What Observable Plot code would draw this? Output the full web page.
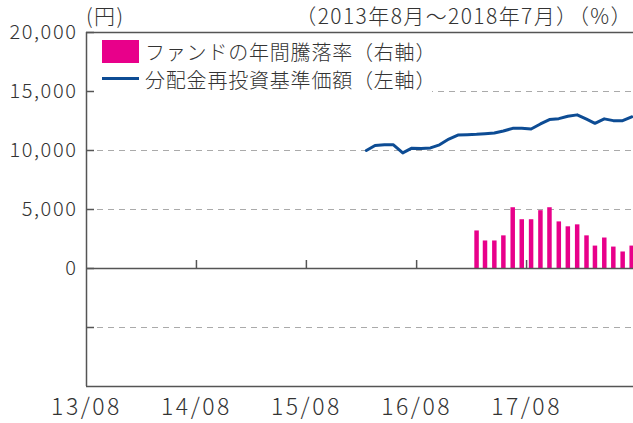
<!DOCTYPE html>
<html><head><meta charset="utf-8">
<script src="https://cdn.jsdelivr.net/npm/d3@7"></script>
<script src="https://cdn.jsdelivr.net/npm/@observablehq/plot@0.6"></script>
<style>
body{margin:0;background:#fff;}
#wrap{position:relative;width:633px;height:423px;font-family:"Noto Sans CJK JP",sans-serif;color:#333;}
#wrap svg{position:absolute;left:0;top:0;}
#wrap svg text{font-weight:300;}
.hdr{position:absolute;top:1px;font-size:21px;line-height:28px;white-space:nowrap;font-weight:300;letter-spacing:1.4px;}
#legend{position:absolute;left:96px;top:36px;width:336px;height:60px;background:#fff;font-size:20px;font-weight:300;letter-spacing:0.8px;}
#legend .sw1{position:absolute;left:6px;top:4px;width:37px;height:23px;background:#e8008a;}
#legend .sw2{position:absolute;left:6px;top:41px;width:37px;height:3px;background:#0d4c94;}
#legend .t{position:absolute;left:49px;line-height:26px;white-space:nowrap;}
</style></head>
<body>
<div id="wrap"></div>
<script>
// --- data ---
const navMonths = ["2016-02","2016-03","2016-04","2016-05","2016-06","2016-07","2016-08","2016-09","2016-10","2016-11","2016-12","2017-01","2017-02","2017-03","2017-04","2017-05","2017-06","2017-07","2017-08","2017-09","2017-10","2017-11","2017-12","2018-01","2018-02","2018-03","2018-04","2018-05","2018-06","2018-07"];
const navValues = [10000,10430,10480,10480,9800,10200,10170,10220,10480,10970,11310,11340,11370,11420,11480,11650,11880,11880,11820,12250,12620,12700,12900,13020,12650,12300,12680,12530,12530,12850];
const retMonths = ["2017-02","2017-03","2017-04","2017-05","2017-06","2017-07","2017-08","2017-09","2017-10","2017-11","2017-12","2018-01","2018-02","2018-03","2018-04","2018-05","2018-06","2018-07"];
const retValues = [19.1,14.0,14.0,16.6,30.9,24.8,24.8,29.4,30.9,23.7,21.2,22.2,16.6,11.4,15.5,10.9,8.4,11.4];
const xTickMonths = ["2013-08","2014-08","2015-08","2016-08","2017-08"];
const yLabelTicks = [20000,15000,10000,5000,0];
const yAllTicks = [20000,15000,10000,5000,0,-5000];
const gridTicks = [15000,10000,5000,-5000];
const legendLabels = ["ファンドの年間騰落率（右軸）","分配金再投資基準価額（左軸）"];

// month -> mid-month date (values plotted at month centres)
const mid = s => { const [y,m] = s.split("-").map(Number); return new Date(Date.UTC(y, m-1, 16)); };
const start = s => { const [y,m] = s.split("-").map(Number); return new Date(Date.UTC(y, m-1, 1)); };

const navData = navMonths.map((m,i) => ({date: mid(m), v: navValues[i]}));
const retData = retMonths.map((m,i) => ({date: mid(m), v: retValues[i]}));
const xTicks = xTickMonths.map(start);

// right axis (%) expressed on the left axis (yen) scale
const pct = d3.scaleLinear().domain([-60,120]).range([-10000,20000]);

const x0 = start("2013-08"), x1 = new Date(Date.UTC(2018,6,22));
const font = '"Noto Sans CJK JP", sans-serif';

const chart = Plot.plot({
  width: 633, height: 423,
  marginLeft: 86, marginRight: 0, marginTop: 32, marginBottom: 37,
  style: {fontFamily: font, color: "#333", background: "transparent"},
  x: {type: "utc", domain: [x0, x1], label: null},
  y: {domain: [-10000, 20000], label: null},
  marks: [
    Plot.ruleY(gridTicks, {stroke: "#aaa", strokeWidth: 1.2, strokeDasharray: "6,5"}),
    Plot.ruleX(retData, {x: "date", y1: 0, y2: d => pct(d.v), stroke: "#e8008a", strokeWidth: 4.5}),
    Plot.line(navData, {x: "date", y: "v", stroke: "#0d4c94", strokeWidth: 3}),
    Plot.ruleY([20000, 0, -10000], {stroke: "#555", strokeWidth: 1.5}),
    Plot.ruleX([x0], {stroke: "#555", strokeWidth: 1.5}),
    Plot.ruleX(xTicks.slice(1), {y1: 0, y2: 0, insetTop: -8, stroke: "#555", strokeWidth: 1.5}),
    Plot.axisY(yAllTicks, {tickSize: 8, insetLeft: 8, fill: "none", stroke: "#555", strokeWidth: 1.5}),
    Plot.axisY(yLabelTicks, {tickSize: 0, tickPadding: 9, tickFormat: d3.format(","), fontSize: 20, fill: "#333"}),
    Plot.axisX(xTicks, {tickSize: 0, tickPadding: 12, tickFormat: d3.utcFormat("%y/%m"), fontSize: 23, fill: "#333"})
  ]
});

// widen the tick-label lettering to match the reference typeface
chart.querySelectorAll("text").forEach(t => {
  t.style.letterSpacing = t.textContent.includes("/") ? "2.5px" : "1.6px";
});

const wrap = document.getElementById("wrap");
wrap.appendChild(chart);
const h1 = document.createElement("div"); h1.className = "hdr"; h1.style.left = "86px"; h1.textContent = "(円)"; wrap.appendChild(h1);
const h2 = document.createElement("div"); h2.className = "hdr"; h2.style.right = "0px"; h2.textContent = "（2013年8月～2018年7月）（%）"; wrap.appendChild(h2);
const lg = document.createElement("div"); lg.id = "legend";
lg.innerHTML = '<div class="sw1"></div><div class="t" style="top:3px"></div><div class="sw2"></div><div class="t" style="top:31px"></div>';
const ts = lg.querySelectorAll(".t"); ts[0].textContent = legendLabels[0]; ts[1].textContent = legendLabels[1];
wrap.appendChild(lg);
</script>
</body></html>
